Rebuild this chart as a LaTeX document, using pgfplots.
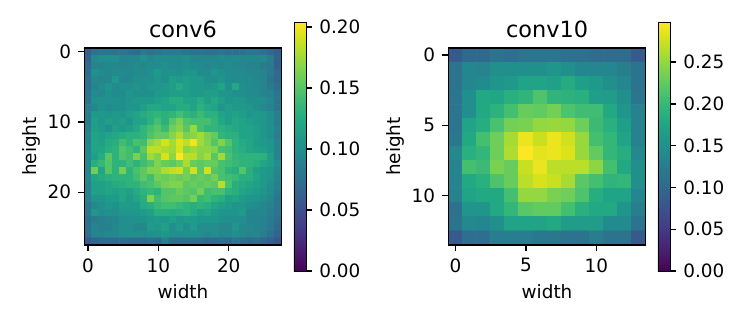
\documentclass[border=0pt]{standalone}
\usepackage{pgfplots}
\pgfplotsset{compat=1.18}
\usepackage{fontspec}
\setmainfont{DejaVu Sans}
\pgfplotsset{
  hm/.style={
    scale only axis, width=98.5pt, height=98.5pt,
    y dir=reverse, axis on top,
    colormap/viridis, point meta min=0,
    /pgf/number format/assume math mode=true,
    tick align=outside, major tick length=3.2pt,
    every tick/.style={black, line width=0.73pt},
    axis line style={line width=0.73pt},
    tick label style={font=\fontsize{9.2}{11}\selectfont},
    label style={font=\fontsize{9.2}{11}\selectfont},
    title style={font=\fontsize{11.2}{13}\selectfont, yshift=-4.5pt},
    xlabel={width}, ylabel={height},
    xlabel style={yshift=1pt}, ylabel style={yshift=-3pt},
    xtick pos=lower, ytick pos=lower,
    xticklabel pos=lower, yticklabel pos=lower,
    colorbar,
  },
  cb/.style={at={(1.063,-0.132)}, anchor=south west, width=6pt, height=124.5pt,
    yticklabel pos=right, ytick pos=right, tick align=outside, major tick length=3.2pt,
    /pgf/number format/fixed, /pgf/number format/fixed zerofill, /pgf/number format/precision=2, /pgf/number format/assume math mode=true}
}
\begin{document}
\begin{tikzpicture}
\useasboundingbox (0,0) rectangle (373.5pt,161pt);
\begin{axis}[hm, at={(42.25pt,38.5pt)}, anchor=south west, title={conv6},
  xmin=-0.5, xmax=27.5, ymin=-0.5, ymax=27.5,
  xtick={0,10,20}, ytick={0,10,20}, point meta max=0.204,
  colorbar style={cb, ytick={0,0.05,0.1,0.15,0.2}}]
\addplot[matrix plot*, mesh/cols=28, point meta=\thisrowno{0}] table[row sep=crcr, header=false, x expr={\coordindex-28*floor((\coordindex+0.5)/28)}, y expr={floor((\coordindex+0.5)/28)}] {
.062\\.076\\.080\\.080\\.078\\.080\\.076\\.072\\.083\\.076\\.080\\.083\\.083\\.085\\.080\\.078\\.080\\.076\\.076\\.080\\.076\\.076\\.076\\.080\\.080\\.076\\.069\\.061\\
.064\\.096\\.100\\.100\\.100\\.092\\.094\\.094\\.104\\.094\\.098\\.098\\.098\\.098\\.102\\.094\\.094\\.094\\.094\\.098\\.094\\.098\\.094\\.094\\.094\\.096\\.084\\.064\\
.070\\.092\\.092\\.096\\.094\\.094\\.094\\.098\\.094\\.098\\.098\\.102\\.098\\.098\\.102\\.098\\.098\\.094\\.098\\.094\\.098\\.094\\.094\\.090\\.092\\.084\\.082\\.062\\
.072\\.104\\.098\\.094\\.098\\.098\\.094\\.098\\.098\\.102\\.110\\.104\\.104\\.102\\.106\\.106\\.098\\.098\\.106\\.102\\.098\\.098\\.098\\.094\\.094\\.092\\.082\\.068\\
.076\\.096\\.092\\.094\\.110\\.094\\.094\\.102\\.102\\.102\\.106\\.102\\.114\\.110\\.114\\.110\\.110\\.102\\.102\\.106\\.098\\.098\\.098\\.098\\.094\\.092\\.078\\.068\\
.076\\.092\\.098\\.106\\.098\\.102\\.102\\.106\\.102\\.106\\.106\\.110\\.114\\.124\\.114\\.110\\.110\\.106\\.110\\.118\\.102\\.122\\.102\\.098\\.096\\.092\\.082\\.074\\
.078\\.098\\.094\\.104\\.098\\.098\\.106\\.102\\.102\\.102\\.110\\.110\\.114\\.114\\.114\\.110\\.110\\.114\\.114\\.106\\.106\\.102\\.102\\.098\\.098\\.092\\.090\\.080\\
.078\\.102\\.104\\.102\\.104\\.102\\.106\\.110\\.110\\.110\\.114\\.118\\.126\\.126\\.118\\.118\\.126\\.114\\.122\\.114\\.106\\.110\\.106\\.102\\.102\\.100\\.094\\.080\\
.086\\.094\\.104\\.098\\.102\\.102\\.106\\.106\\.114\\.122\\.122\\.118\\.118\\.126\\.126\\.118\\.130\\.122\\.118\\.106\\.114\\.110\\.110\\.106\\.102\\.096\\.090\\.080\\
.084\\.110\\.110\\.106\\.110\\.106\\.114\\.118\\.126\\.130\\.134\\.130\\.134\\.143\\.134\\.130\\.139\\.130\\.130\\.118\\.114\\.118\\.114\\.106\\.110\\.108\\.100\\.086\\
.084\\.114\\.106\\.114\\.110\\.114\\.106\\.118\\.118\\.130\\.143\\.130\\.151\\.163\\.147\\.143\\.143\\.143\\.134\\.122\\.114\\.122\\.118\\.114\\.110\\.108\\.100\\.086\\
.088\\.114\\.110\\.102\\.114\\.110\\.114\\.122\\.134\\.143\\.151\\.139\\.159\\.167\\.151\\.172\\.143\\.134\\.134\\.130\\.126\\.122\\.118\\.118\\.114\\.108\\.104\\.090\\
.092\\.118\\.114\\.118\\.122\\.126\\.130\\.130\\.134\\.147\\.155\\.155\\.167\\.180\\.163\\.167\\.176\\.163\\.155\\.134\\.130\\.130\\.118\\.118\\.114\\.108\\.100\\.086\\
.090\\.120\\.116\\.124\\.128\\.141\\.132\\.145\\.141\\.169\\.177\\.192\\.177\\.194\\.184\\.200\\.175\\.165\\.149\\.165\\.149\\.132\\.124\\.120\\.112\\.110\\.106\\.092\\
.094\\.120\\.120\\.128\\.132\\.149\\.141\\.132\\.153\\.184\\.184\\.179\\.175\\.192\\.169\\.175\\.169\\.169\\.165\\.145\\.141\\.132\\.128\\.120\\.116\\.114\\.106\\.092\\
.096\\.114\\.126\\.151\\.132\\.147\\.141\\.163\\.145\\.175\\.165\\.192\\.169\\.204\\.182\\.182\\.167\\.177\\.151\\.175\\.145\\.135\\.132\\.132\\.132\\.130\\.114\\.092\\
.094\\.128\\.137\\.149\\.132\\.132\\.141\\.132\\.141\\.149\\.165\\.157\\.153\\.161\\.179\\.157\\.153\\.157\\.157\\.145\\.141\\.137\\.132\\.132\\.128\\.120\\.114\\.100\\
.094\\.159\\.120\\.149\\.132\\.161\\.132\\.145\\.153\\.165\\.165\\.179\\.184\\.188\\.161\\.190\\.153\\.190\\.149\\.145\\.132\\.128\\.149\\.128\\.116\\.110\\.106\\.096\\
.094\\.120\\.124\\.128\\.132\\.132\\.132\\.141\\.153\\.141\\.161\\.157\\.161\\.157\\.161\\.153\\.157\\.153\\.161\\.145\\.141\\.137\\.128\\.128\\.120\\.110\\.106\\.092\\
.090\\.116\\.116\\.120\\.124\\.128\\.132\\.132\\.141\\.145\\.153\\.161\\.165\\.165\\.153\\.157\\.153\\.157\\.153\\.182\\.145\\.128\\.124\\.120\\.116\\.110\\.102\\.088\\
.090\\.116\\.116\\.120\\.116\\.120\\.116\\.124\\.132\\.137\\.132\\.149\\.149\\.157\\.153\\.149\\.161\\.141\\.145\\.145\\.132\\.128\\.120\\.116\\.112\\.106\\.098\\.084\\
.090\\.106\\.106\\.112\\.112\\.120\\.112\\.120\\.128\\.165\\.141\\.149\\.153\\.153\\.149\\.161\\.137\\.141\\.132\\.128\\.116\\.120\\.112\\.106\\.106\\.102\\.094\\.080\\
.082\\.096\\.100\\.108\\.104\\.112\\.112\\.112\\.124\\.128\\.137\\.141\\.141\\.137\\.132\\.128\\.132\\.128\\.120\\.116\\.112\\.106\\.106\\.102\\.098\\.094\\.090\\.080\\
.082\\.108\\.100\\.104\\.100\\.108\\.108\\.108\\.112\\.116\\.128\\.128\\.124\\.128\\.132\\.124\\.116\\.120\\.112\\.106\\.106\\.106\\.112\\.094\\.094\\.094\\.086\\.080\\
.076\\.084\\.088\\.092\\.092\\.100\\.100\\.104\\.104\\.108\\.112\\.108\\.116\\.108\\.112\\.112\\.108\\.108\\.108\\.104\\.100\\.100\\.100\\.092\\.092\\.090\\.082\\.074\\
.076\\.092\\.088\\.088\\.096\\.100\\.100\\.096\\.096\\.112\\.108\\.116\\.100\\.112\\.100\\.112\\.100\\.100\\.100\\.096\\.096\\.108\\.096\\.096\\.092\\.090\\.082\\.070\\
.076\\.092\\.092\\.096\\.096\\.100\\.104\\.100\\.100\\.104\\.104\\.108\\.104\\.100\\.104\\.104\\.100\\.096\\.100\\.096\\.096\\.100\\.096\\.092\\.094\\.086\\.076\\.066\\
.058\\.066\\.071\\.071\\.071\\.075\\.071\\.071\\.071\\.075\\.071\\.088\\.075\\.075\\.075\\.075\\.075\\.071\\.071\\.075\\.071\\.080\\.075\\.071\\.075\\.067\\.062\\.054\\
};
\end{axis}
\begin{axis}[hm, at={(224.25pt,38.5pt)}, anchor=south west, title={conv10},
  xmin=-0.5, xmax=13.5, ymin=-0.5, ymax=13.5,
  xtick={0,5,10}, ytick={0,5,10}, point meta max=0.298,
  colorbar style={cb, ytick={0,0.05,0.1,0.15,0.2,0.25}}]
\addplot[matrix plot*, mesh/cols=14, point meta=\thisrowno{0}] table[row sep=crcr, header=false, x expr={\coordindex-14*floor((\coordindex+0.5)/14)}, y expr={floor((\coordindex+0.5)/14)}] {
.083\\.101\\.101\\.113\\.107\\.116\\.116\\.116\\.110\\.110\\.104\\.104\\.104\\.083\\
.113\\.137\\.134\\.149\\.149\\.149\\.149\\.155\\.149\\.137\\.137\\.137\\.128\\.113\\
.113\\.137\\.143\\.155\\.161\\.173\\.173\\.170\\.182\\.167\\.161\\.149\\.137\\.113\\
.116\\.149\\.179\\.176\\.188\\.194\\.215\\.194\\.191\\.188\\.167\\.164\\.149\\.116\\
.116\\.146\\.179\\.191\\.209\\.229\\.226\\.235\\.215\\.206\\.206\\.179\\.155\\.131\\
.116\\.173\\.185\\.212\\.235\\.238\\.250\\.253\\.250\\.232\\.203\\.188\\.167\\.131\\
.119\\.179\\.209\\.232\\.259\\.289\\.274\\.289\\.277\\.253\\.209\\.197\\.173\\.131\\
.140\\.188\\.197\\.232\\.262\\.298\\.286\\.289\\.283\\.253\\.226\\.197\\.185\\.140\\
.134\\.209\\.203\\.238\\.229\\.274\\.289\\.268\\.268\\.268\\.247\\.209\\.179\\.149\\
.134\\.179\\.188\\.215\\.229\\.268\\.280\\.274\\.259\\.221\\.209\\.194\\.197\\.149\\
.131\\.173\\.179\\.179\\.209\\.250\\.250\\.238\\.232\\.215\\.185\\.173\\.173\\.137\\
.110\\.155\\.155\\.179\\.197\\.221\\.226\\.226\\.209\\.188\\.179\\.179\\.155\\.128\\
.113\\.140\\.137\\.149\\.173\\.173\\.173\\.179\\.164\\.164\\.164\\.143\\.143\\.113\\
.083\\.107\\.107\\.125\\.125\\.125\\.119\\.119\\.113\\.113\\.125\\.113\\.113\\.083\\
};
\end{axis}
\end{tikzpicture}
\end{document}
